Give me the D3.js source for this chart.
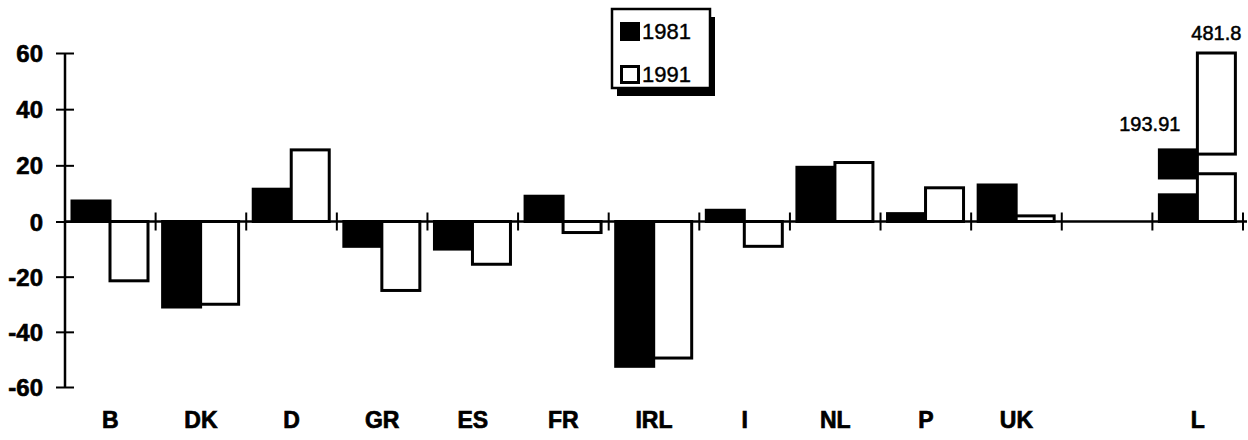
<!DOCTYPE html>
<html>
<head>
<meta charset="utf-8">
<script src="https://cdn.jsdelivr.net/npm/d3@7/dist/d3.min.js"></script>
<style>
  html, body { margin: 0; padding: 0; background: #fff; }
  svg { display: block; }
</style>
</head>
<body>
<svg id="chart" width="1248" height="440"></svg>
<script>
// Country codes along the x axis (an empty slot separates L from the rest)
const categories = ["B", "DK", "D", "GR", "ES", "FR", "IRL", "I", "NL", "P", "UK", "", "L"];
const seriesNames = ["1981", "1991"];
const values1981 = [7.3, -31, 11.5, -9, -10, 9, -52.5, 4, 19.3, 2.8, 13, null, 193.91];
const values1991 = [-21.5, -30, 25.5, -25, -15.5, -4, -49.5, -9, 21, 12, 2, null, 481.8];
const yTicks = [-60, -40, -20, 0, 20, 40, 60];

// L runs far off the scale: its bars are drawn broken, with a gap and a shortened top
const brokenFrom = [9.5, 17];    // lower piece ends here
const brokenTo = [15.5, 24];     // upper piece starts here
const brokenTop = [25.5, 60];    // drawn top of upper piece

const svg = d3.select("#chart");
const font = "'Liberation Sans', Arial, Helvetica, sans-serif";

const x = d3.scaleBand().domain(categories).range([65, 1243]).padding(0);
const xs = d3.scaleBand().domain(seriesNames).range([7, 83]).padding(0);
const y = d3.scaleLinear().domain([-60, 0, 60]).range([387, 221.5, 53]);

const rows = categories.map((c, i) => ({ c, v: [values1981[i], values1991[i]] }));

// bars
const gBars = svg.append("g");
rows.forEach(r => {
  r.v.forEach((v, s) => {
    if (v == null) return;
    const name = seriesNames[s];
    const fill = s === 0 ? "#000" : "#fff";
    const x0 = x(r.c) + xs(name);
    const w = xs.bandwidth();
    const pieces = [];
    if (v > 60) {
      pieces.push([0, brokenFrom[s]]);
      pieces.push([brokenTo[s], brokenTop[s]]);
    } else {
      pieces.push([0, v]);
    }
    pieces.forEach(([a, b]) => {
      gBars.append("rect")
        .attr("x", x0)
        .attr("width", w)
        .attr("y", y(Math.max(a, b)))
        .attr("height", Math.abs(y(a) - y(b)))
        .attr("fill", fill)
        .attr("stroke", "#000")
        .attr("stroke-width", 3);
    });
  });
});

// y axis
const yAxis = svg.append("g")
  .attr("transform", "translate(65,0)")
  .call(d3.axisLeft(y).tickValues(yTicks).tickSize(8).tickPadding(14).tickFormat(d3.format("d")));
yAxis.select(".domain").attr("d", `M0,${y(60)}V${y(-60)}`).attr("stroke", "#000").attr("stroke-width", 2.5);
yAxis.selectAll(".tick line").attr("x1", -9).attr("x2", 9).attr("stroke-width", 2);
yAxis.selectAll(".tick text")
  .attr("font-family", font).attr("font-weight", "bold").attr("font-size", 24)
  .attr("fill", "#000").attr("stroke", "#000").attr("stroke-width", 0.6)
  .attr("dy", "0.36em").text(d => d3.format("d")(d).replace("−", "-"));

// x axis line through zero with boundary ticks between countries
svg.append("line")
  .attr("x1", x.range()[0]).attr("x2", x.range()[1] + 4)
  .attr("y1", y(0)).attr("y2", y(0))
  .attr("stroke", "#000").attr("stroke-width", 2.5);
svg.append("g").selectAll("line")
  .data(categories)
  .join("line")
  .attr("x1", d => x(d) + x.bandwidth()).attr("x2", d => x(d) + x.bandwidth())
  .attr("y1", y(0) - 9).attr("y2", y(0) + 9)
  .attr("stroke", "#000").attr("stroke-width", 2);

// country labels
const xAxis = svg.append("g")
  .attr("transform", "translate(0,428)")
  .call(d3.axisBottom(x).tickSize(0).tickPadding(0));
xAxis.select(".domain").remove();
xAxis.selectAll(".tick text")
  .attr("font-family", font).attr("font-weight", "bold").attr("font-size", 23)
  .attr("fill", "#000").attr("stroke", "#000").attr("stroke-width", 0.7).attr("dy", 0);

// value labels for the broken L bars
const lIdx = categories.indexOf("L");
svg.append("text")
  .attr("x", x("L") + xs("1981") + 21).attr("y", 131)
  .attr("text-anchor", "end")
  .attr("font-family", font).attr("font-size", 20)
  .attr("stroke", "#000").attr("stroke-width", 0.5)
  .text(values1981[lIdx]);
svg.append("text")
  .attr("x", x("L") + xs("1991") + xs.bandwidth() / 2).attr("y", 40)
  .attr("text-anchor", "middle")
  .attr("font-family", font).attr("font-size", 20)
  .attr("stroke", "#000").attr("stroke-width", 0.5)
  .text(values1991[lIdx]);

// legend
const lg = svg.append("g").attr("transform", "translate(612,9)");
lg.append("rect").attr("x", 5).attr("y", 8).attr("width", 98).attr("height", 79).attr("fill", "#000");
lg.append("rect").attr("x", 0).attr("y", 0).attr("width", 98).attr("height", 79)
  .attr("fill", "#fff").attr("stroke", "#000").attr("stroke-width", 2.5);
seriesNames.forEach((name, i) => {
  const yy = 13 + i * 43;
  lg.append("rect").attr("x", 9.5).attr("y", yy + 1.5).attr("width", 17).attr("height", 16)
    .attr("fill", i === 0 ? "#000" : "#fff").attr("stroke", "#000").attr("stroke-width", 3);
  lg.append("text").attr("x", 30).attr("y", yy + 17)
    .attr("font-family", font).attr("font-size", 22).attr("fill", "#000")
    .attr("stroke", "#000").attr("stroke-width", 0.4)
    .text(name);
});
</script>
</body>
</html>
